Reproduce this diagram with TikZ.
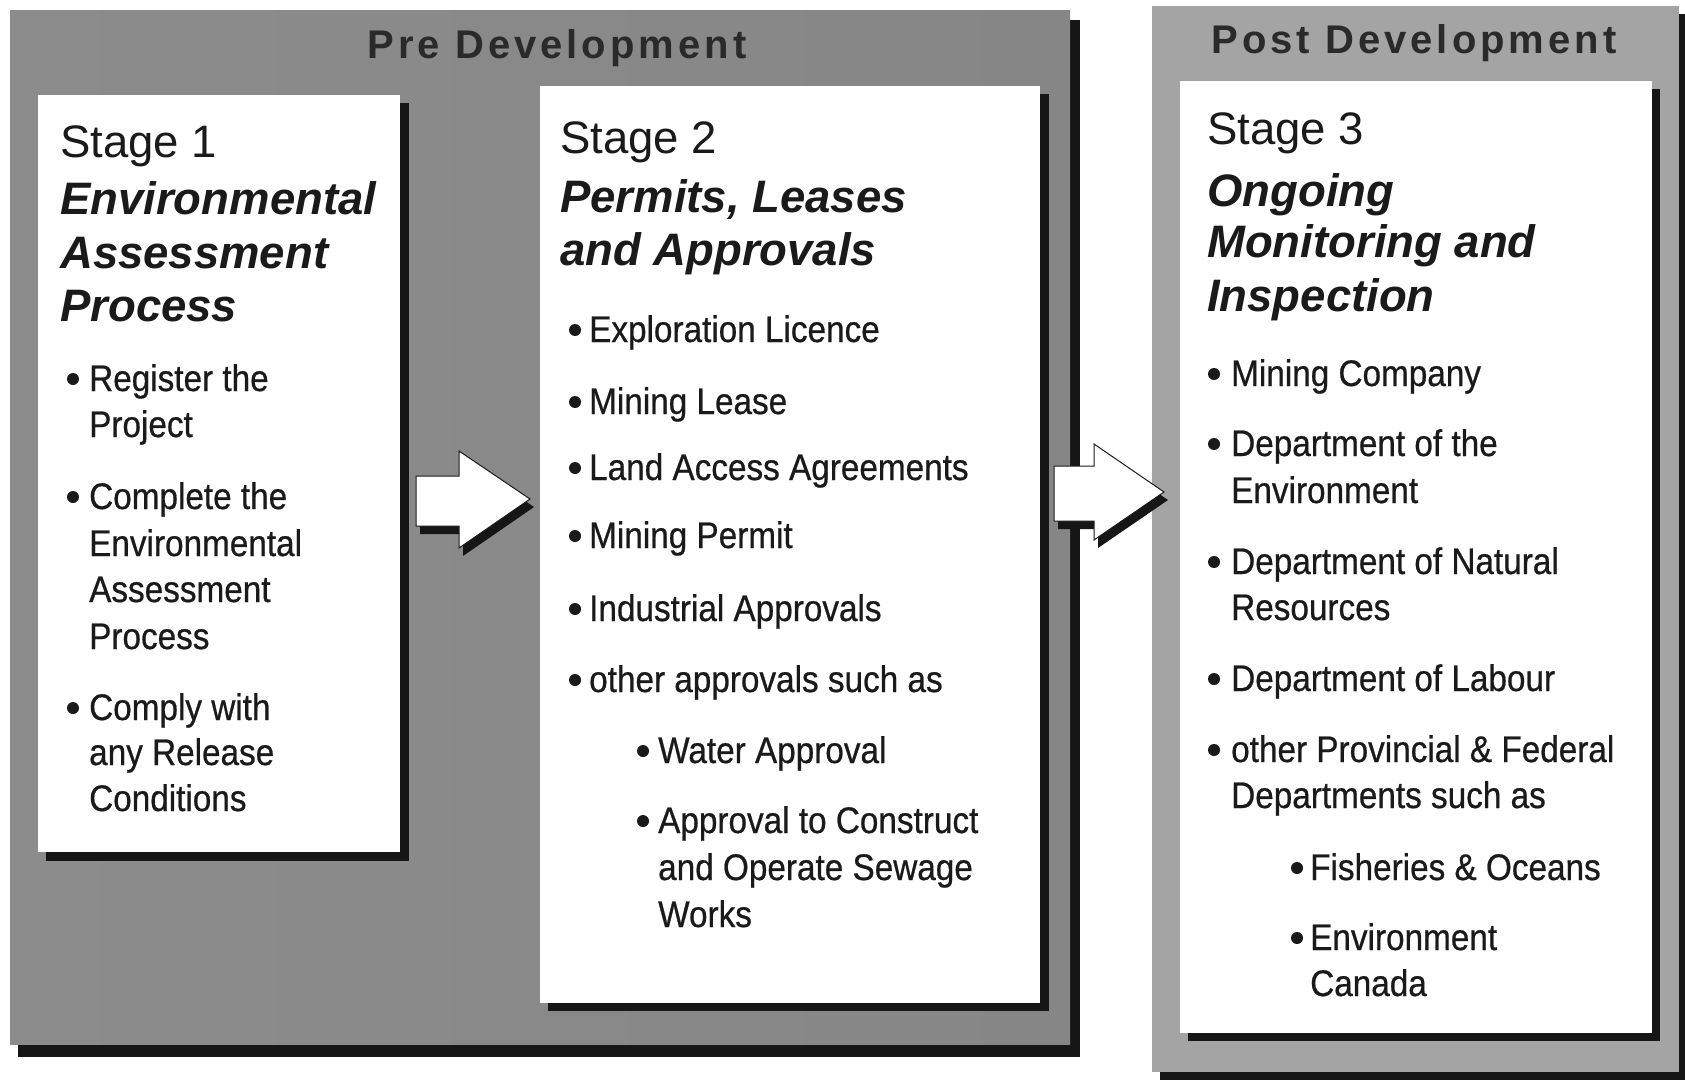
\documentclass[tikz,border=0pt]{standalone}
\usepackage{fontspec}
\setmainfont{Liberation Sans}
\newfontfamily\condfont[FakeStretch=0.9,FakeBold=0.6]{Liberation Sans}
\newfontfamily\titlefont[LetterSpace=10]{Liberation Sans}
\definecolor{ink}{HTML}{1A1A1A}
\definecolor{ttlink}{HTML}{2A2A2A}
\definecolor{shade}{HTML}{161616}
\definecolor{preL}{HTML}{8C8C8C}
\definecolor{preM}{HTML}{6C6C6C}
\definecolor{preR}{HTML}{868686}
\definecolor{postg}{HTML}{A4A4A4}
\newcommand\bdot[2]{\fill[ink] (#1,#2-12) circle[radius=6pt];}
\begin{document}
\begin{tikzpicture}[x=1pt,y=-1pt,
  hd/.style={anchor=base west, inner sep=0pt, text=ink, font=\fontsize{45.5}{54}\selectfont},
  hdi/.style={anchor=base west, inner sep=0pt, text=ink, font=\fontsize{45.5}{54}\selectfont\bfseries\itshape},
  itm/.style={anchor=base west, inner sep=0pt, text=ink, font=\condfont\fontsize{37}{47}\selectfont},
  ttl/.style={anchor=base, inner sep=0pt, text=ttlink, font=\titlefont\bfseries\fontsize{40}{48}\selectfont},
  panel/.style={fill=white},
  drop/.style={fill=shade},
  blockarrow/.style={fill=white, draw=ink, line width=1pt, line join=miter},
  arrowdrop/.style={fill=shade}
]
\useasboundingbox (0,0) rectangle (1685,1086);
\fill[white] (0,0) rectangle (1685,1086);

% ---------------- Pre Development frame
\fill[drop] (18,20) rectangle (1080,1057);
\shade[left color=preL, middle color=preM, right color=preR] (10,11) rectangle (1070,1044);
\node[ttl] (pretitle) at (557,59) {Pre Development};

% ---------------- Post Development frame
\fill[drop] (1160,14) rectangle (1685,1080);
\fill[postg] (1152,6) rectangle (1679,1072);
\node[ttl] (posttitle) at (1414,54) {Post Development};

% ---------------- Stage panels
\fill[drop] (46,103) rectangle (409,861);
\fill[panel] (38,95) rectangle (400,852);
\fill[drop] (548,94) rectangle (1049,1011);
\fill[panel] (540,86) rectangle (1040,1003);
\fill[drop] (1188,89) rectangle (1660,1041);
\fill[panel] (1180,81) rectangle (1652,1033);

% ---------------- Block arrows
\coordinate (a1t1) at (416,476);
\coordinate (a1t2) at (459,476);
\coordinate (a1h1) at (459,451);
\coordinate (a1tip) at (530,499);
\coordinate (a1h2) at (459,548);
\coordinate (a1t3) at (459,526);
\coordinate (a1t4) at (416,526);
\fill[arrowdrop] ([shift={(4,8)}]a1t1) -- ([shift={(4,8)}]a1t2) -- ([shift={(4,8)}]a1h1) -- ([shift={(4,8)}]a1tip) -- ([shift={(4,8)}]a1h2) -- ([shift={(4,8)}]a1t3) -- ([shift={(4,8)}]a1t4) -- cycle;
\draw[blockarrow] (a1t1) -- (a1t2) -- (a1h1) -- (a1tip) -- (a1h2) -- (a1t3) -- (a1t4) -- cycle;

\coordinate (a2t1) at (1054,466);
\coordinate (a2t2) at (1094,466);
\coordinate (a2h1) at (1094,444);
\coordinate (a2tip) at (1164,492);
\coordinate (a2h2) at (1094,540);
\coordinate (a2t3) at (1094,521);
\coordinate (a2t4) at (1054,521);
\fill[arrowdrop] ([shift={(4,8)}]a2t1) -- ([shift={(4,8)}]a2t2) -- ([shift={(4,8)}]a2h1) -- ([shift={(4,8)}]a2tip) -- ([shift={(4,8)}]a2h2) -- ([shift={(4,8)}]a2t3) -- ([shift={(4,8)}]a2t4) -- cycle;
\draw[blockarrow] (a2t1) -- (a2t2) -- (a2h1) -- (a2tip) -- (a2h2) -- (a2t3) -- (a2t4) -- cycle;

% ---------------- Stage 1 text
\node[hd]  (s1h0) at (60,158) {Stage 1};
\node[hdi] (s1h1) at (60,214) {Environmental};
\node[hdi] (s1h2) at (60,268) {Assessment};
\node[hdi] (s1h3) at (60,321) {Process};
\bdot{73}{391}
\node[itm] (s1a1) at (89,391) {Register the};
\node[itm] (s1a2) at (89,437) {Project};
\bdot{73}{509}
\node[itm] (s1b1) at (89,509) {Complete the};
\node[itm] (s1b2) at (89,556) {Environmental};
\node[itm] (s1b3) at (89,602) {Assessment};
\node[itm] (s1b4) at (89,649) {Process};
\bdot{73}{720}
\node[itm] (s1c1) at (89,720) {Comply with};
\node[itm] (s1c2) at (89,765) {any Release};
\node[itm] (s1c3) at (89,811) {Conditions};

% ---------------- Stage 2 text
\node[hd]  (s2h0) at (560,154) {Stage 2};
\node[hdi] (s2h1) at (560,212) {Permits, Leases};
\node[hdi] (s2h2) at (560,265) {and Approvals};
\bdot{575}{342}
\node[itm] (s2a) at (589,342) {Exploration Licence};
\bdot{575}{414}
\node[itm] (s2b) at (589,414) {Mining Lease};
\bdot{575}{480}
\node[itm] (s2c) at (589,480) {Land Access Agreements};
\bdot{575}{548}
\node[itm] (s2d) at (589,548) {Mining Permit};
\bdot{575}{621}
\node[itm] (s2e) at (589,621) {Industrial Approvals};
\bdot{575}{692}
\node[itm] (s2f) at (589,692) {other approvals such as};
\bdot{643}{763}
\node[itm] (s2g) at (658,763) {Water Approval};
\bdot{643}{833}
\node[itm] (s2h1l) at (658,833) {Approval to Construct};
\node[itm] (s2h2l) at (658,880) {and Operate Sewage};
\node[itm] (s2h3l) at (658,927) {Works};

% ---------------- Stage 3 text
\node[hd]  (s3h0) at (1207,145) {Stage 3};
\node[hdi] (s3h1) at (1207,206) {Ongoing};
\node[hdi] (s3h2) at (1207,257) {Monitoring and};
\node[hdi] (s3h3) at (1207,311) {Inspection};
\bdot{1214}{386}
\node[itm] (s3a) at (1231,386) {Mining Company};
\bdot{1214}{456}
\node[itm] (s3b1) at (1231,456) {Department of the};
\node[itm] (s3b2) at (1231,503) {Environment};
\bdot{1214}{574}
\node[itm] (s3c1) at (1231,574) {Department of Natural};
\node[itm] (s3c2) at (1231,620) {Resources};
\bdot{1214}{691}
\node[itm] (s3d) at (1231,691) {Department of Labour};
\bdot{1214}{762}
\node[itm] (s3e1) at (1231,762) {other Provincial \& Federal};
\node[itm] (s3e2) at (1231,808) {Departments such as};
\bdot{1297}{880}
\node[itm] (s3f) at (1310,880) {Fisheries \& Oceans};
\bdot{1297}{950}
\node[itm] (s3g1) at (1310,950) {Environment};
\node[itm] (s3g2) at (1310,996) {Canada};
\end{tikzpicture}
\end{document}
